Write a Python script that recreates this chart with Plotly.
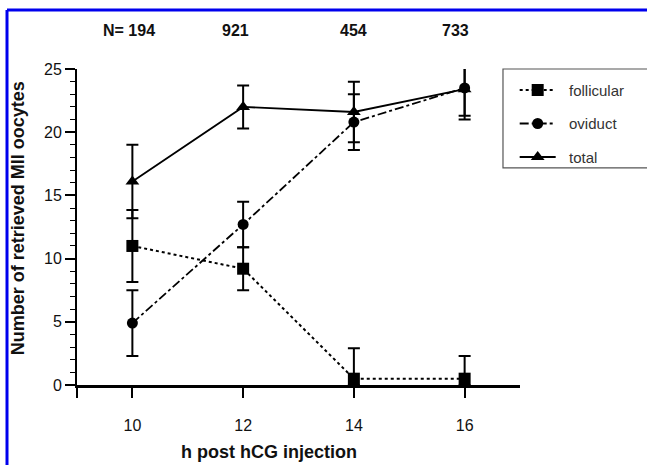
import plotly.graph_objects as go

hours = [10, 12, 14, 16]
n_labels = ["N= 194", "921", "454", "733"]

follicular = [11.0, 9.2, 0.5, 0.5]
follicular_err_plus = [2.85, 1.7, 2.4, 1.8]
follicular_err_minus = [2.85, 1.7, 0.5, 0.5]

oviduct = [4.9, 12.7, 20.8, 23.5]
oviduct_err = [2.6, 1.8, 2.2, 2.2]

total = [16.1, 22.0, 21.6, 23.4]
total_err = [2.9, 1.7, 2.4, 2.4]

FONT = "Liberation Sans, Arial, sans-serif"
n_label_shift = [-3, -8, 0, -9]
LEGEND_PAD = "\u00a0\u00a0"

fig = go.Figure()

def add_series(name, y, eplus, eminus, dash, symbol, msize, lw, group):
    fig.add_trace(go.Scatter(
        x=hours, y=y, name=LEGEND_PAD + name, mode="lines+markers",
        legendgroup=group,
        line=dict(color="black", width=lw, dash=dash),
        marker=dict(symbol=symbol, size=msize, color="black"),
        error_y=dict(type="data", symmetric=False, array=eplus, arrayminus=eminus,
                     color="black", thickness=2, width=6),
        cliponaxis=False,
    ))

add_series("follicular", follicular, follicular_err_plus, follicular_err_minus,
           "dot", "square", 12, 2, "g1")
add_series("oviduct", oviduct, oviduct_err, oviduct_err,
           "dashdot", "circle", 11, 1.8, "g2")
add_series("total", total, total_err, total_err,
           "solid", "triangle-up", 12, 1.8, "g3")

annotations = []
for h, t, s in zip(hours, n_labels, n_label_shift):
    annotations.append(dict(x=h, y=1.123, xref="x", yref="paper", text="<b>" + t + "</b>",
                            showarrow=False, xanchor="center", yanchor="middle", xshift=s,
                            font=dict(family=FONT, size=16, color="#111")))
annotations.append(dict(x=0.433, y=-0.212, xref="paper", yref="paper",
                        text="<b>h post hCG injection</b>", showarrow=False,
                        xanchor="center", yanchor="middle",
                        font=dict(family=FONT, size=18, color="#111")))
annotations.append(dict(x=-0.133, y=0.528, xref="paper", yref="paper",
                        text="<b>Number of retrieved MII oocytes</b>", showarrow=False,
                        textangle=-90, xanchor="center", yanchor="middle",
                        font=dict(family=FONT, size=18, color="#111")))

shapes = [
    # legend box
    dict(type="rect", xref="paper", yref="paper", x0=0.9616, x1=1.33, y0=0.687, y1=1.0,
         line=dict(color="#555", width=1.2), fillcolor="rgba(0,0,0,0)", layer="above"),
    # blue frame
    dict(type="line", xref="paper", yref="paper", x0=-0.158, x1=1.4, y0=1.187, y1=1.187,
         line=dict(color="#0000ee", width=3)),
    dict(type="line", xref="paper", yref="paper", x0=-0.158, x1=-0.158, y0=-0.3, y1=1.187,
         line=dict(color="#0000ee", width=3)),
]

fig.update_layout(
    width=647, height=465,
    margin=dict(l=77, r=127, t=69, b=80),
    paper_bgcolor="white", plot_bgcolor="white",
    font=dict(family=FONT, size=15, color="#111"),
    showlegend=True,
    legend=dict(x=0.988, y=0.985, xanchor="left", yanchor="top",
                bgcolor="rgba(0,0,0,0)", borderwidth=0,
                tracegroupgap=11, itemwidth=36,
                font=dict(family=FONT, size=15, color="#333")),
    annotations=annotations,
    shapes=shapes,
    xaxis=dict(range=[9, 17], tickvals=[9] + hours, ticktext=[""] + [str(h) for h in hours],
               showline=True, linecolor="black", linewidth=3,
               ticks="outside", ticklen=10, tickwidth=1.5, tickcolor="black",
               ticklabelstandoff=14,
               showgrid=False, zeroline=False,
               tickfont=dict(family=FONT, size=16, color="#111")),
    yaxis=dict(range=[0, 25], tickvals=[0, 5, 10, 15, 20, 25],
               showline=True, linecolor="black", linewidth=2,
               ticks="outside", ticklen=10, tickwidth=1.5, tickcolor="black",
               minor=dict(dtick=1, ticks="outside", ticklen=5, tickwidth=1.2, tickcolor="black"),
               showgrid=False, zeroline=False,
               tickfont=dict(family=FONT, size=16, color="#111")),
)

fig.write_html("out.html",
               config={"displayModeBar": False},
               post_script="document.body.style.margin='0';document.body.style.overflow='hidden';")
